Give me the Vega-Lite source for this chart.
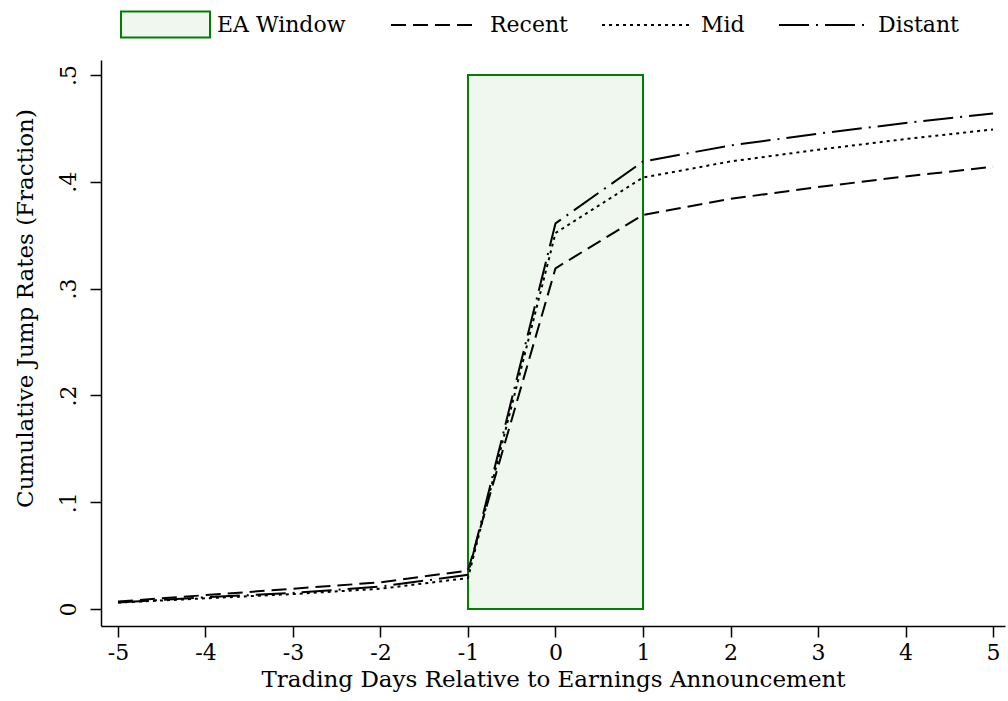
{
  "$schema": "https://vega.github.io/schema/vega-lite/v6.json",
  "width": 904,
  "height": 566,
  "autosize": {"type": "none"},
  "padding": {"left": 101, "top": 60, "right": 3, "bottom": 75},
  "background": "white",
  "config": {
    "view": {"stroke": null},
    "font": "DejaVu Serif",
    "axis": {
      "domainColor": "black",
      "domainWidth": 1.5,
      "tickColor": "black",
      "tickWidth": 1.5,
      "tickSize": 11,
      "grid": false,
      "labelFont": "DejaVu Serif",
      "titleFont": "DejaVu Serif",
      "labelFontSize": 22,
      "titleFontSize": 23,
      "labelColor": "black",
      "titleColor": "black",
      "titleFontWeight": "normal"
    },
    "legend": {
      "labelFont": "DejaVu Serif",
      "labelFontSize": 22,
      "labelColor": "black"
    }
  },
  "datasets": {
    "window": [{"x": -1, "x2": 1, "y": 0, "y2": 0.5, "label": "EA Window"}],
    "series": [
      {"day": -5, "rate": 0.007, "group": "Recent"},
      {"day": -4, "rate": 0.013, "group": "Recent"},
      {"day": -3, "rate": 0.019, "group": "Recent"},
      {"day": -2, "rate": 0.025, "group": "Recent"},
      {"day": -1, "rate": 0.036, "group": "Recent"},
      {"day": 0, "rate": 0.319, "group": "Recent"},
      {"day": 1, "rate": 0.369, "group": "Recent"},
      {"day": 2, "rate": 0.384, "group": "Recent"},
      {"day": 3, "rate": 0.395, "group": "Recent"},
      {"day": 4, "rate": 0.405, "group": "Recent"},
      {"day": 5, "rate": 0.414, "group": "Recent"},
      {"day": -5, "rate": 0.006, "group": "Mid"},
      {"day": -4, "rate": 0.010, "group": "Mid"},
      {"day": -3, "rate": 0.014, "group": "Mid"},
      {"day": -2, "rate": 0.019, "group": "Mid"},
      {"day": -1, "rate": 0.029, "group": "Mid"},
      {"day": 0, "rate": 0.352, "group": "Mid"},
      {"day": 1, "rate": 0.404, "group": "Mid"},
      {"day": 2, "rate": 0.419, "group": "Mid"},
      {"day": 3, "rate": 0.430, "group": "Mid"},
      {"day": 4, "rate": 0.440, "group": "Mid"},
      {"day": 5, "rate": 0.449, "group": "Mid"},
      {"day": -5, "rate": 0.006, "group": "Distant"},
      {"day": -4, "rate": 0.011, "group": "Distant"},
      {"day": -3, "rate": 0.015, "group": "Distant"},
      {"day": -2, "rate": 0.021, "group": "Distant"},
      {"day": -1, "rate": 0.032, "group": "Distant"},
      {"day": 0, "rate": 0.361, "group": "Distant"},
      {"day": 1, "rate": 0.419, "group": "Distant"},
      {"day": 2, "rate": 0.434, "group": "Distant"},
      {"day": 3, "rate": 0.445, "group": "Distant"},
      {"day": 4, "rate": 0.455, "group": "Distant"},
      {"day": 5, "rate": 0.464, "group": "Distant"}
    ]
  },
  "layer": [
    {
      "data": {"name": "window"},
      "mark": {"type": "rect", "stroke": "#008000", "strokeWidth": 2},
      "encoding": {
        "x": {
          "field": "x", "type": "quantitative",
          "scale": {"domain": [-5.194, 5.137], "nice": false, "zero": false},
          "axis": {
            "values": [-5, -4, -3, -2, -1, 0, 1, 2, 3, 4, 5],
            "labelExpr": "'' + datum.value",
            "title": "Trading Days Relative to Earnings Announcement",
            "labelPadding": 5,
            "titlePadding": 5
          }
        },
        "x2": {"field": "x2"},
        "y": {
          "field": "y", "type": "quantitative",
          "scale": {"domain": [-0.0159, 0.514], "nice": false, "zero": false},
          "axis": {
            "values": [0, 0.1, 0.2, 0.3, 0.4, 0.5],
            "labelExpr": "datum.value == 0 ? '0' : replace(format(datum.value, '.1f'), '0.', '.')",
            "labelAngle": -90,
            "labelAlign": "center",
            "labelBaseline": "bottom",
            "labelPadding": 10,
            "title": "Cumulative Jump Rates (Fraction)",
            "titlePadding": 20,
            "titleY": 248
          }
        },
        "y2": {"field": "y2"},
        "fill": {
          "field": "label", "type": "nominal",
          "scale": {"domain": ["EA Window"], "range": ["#eff7ef"]},
          "legend": {
            "title": null,
            "orient": "none",
            "legendX": 19,
            "legendY": -81,
            "direction": "horizontal",
            "symbolType": "M-1,-0.292H1V0.292H-1Z",
            "symbolSize": 7921,
            "symbolStrokeColor": "#008000",
            "symbolStrokeWidth": 2,
            "labelOffset": 6
          }
        }
      }
    },
    {
      "data": {"name": "series"},
      "mark": {"type": "line", "color": "black", "strokeWidth": 2},
      "encoding": {
        "x": {"field": "day", "type": "quantitative"},
        "y": {"field": "rate", "type": "quantitative"},
        "detail": {"field": "group"},
        "strokeDash": {
          "field": "group", "type": "nominal",
          "scale": {
            "domain": ["Recent", "Mid", "Distant"],
            "range": [[15, 7], [3, 4], [30, 7, 2, 7]]
          },
          "legend": {
            "title": null,
            "orient": "none",
            "legendX": 289,
            "legendY": -80,
            "direction": "horizontal",
            "symbolType": "stroke",
            "symbolSize": 7744,
            "symbolStrokeColor": "black",
            "symbolStrokeWidth": 2,
            "labelOffset": 10,
            "columnPadding": 30
          }
        }
      }
    }
  ]
}
